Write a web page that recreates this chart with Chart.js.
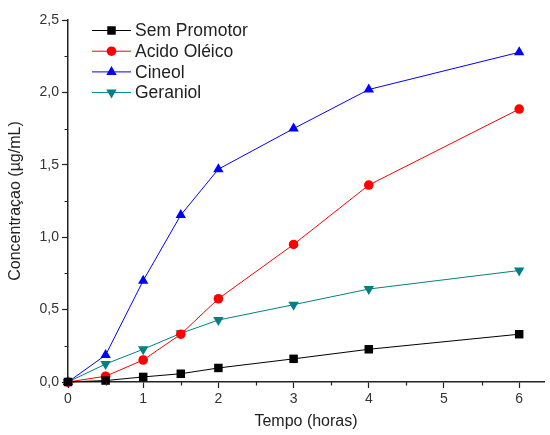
<!DOCTYPE html>
<html>
<head>
<meta charset="utf-8">
<script src="https://cdn.jsdelivr.net/npm/chart.js@4/dist/chart.umd.min.js"></script>
<style>
  html, body { margin: 0; padding: 0; background: #fff; }
  #wrap { width: 550px; height: 435px; }
</style>
</head>
<body>
<div id="wrap"><canvas id="conc"></canvas></div>
<script>
// tempo (horas)
const tempo = [0, 0.5, 1, 1.5, 2, 3, 4, 6]
const semPromotor = [0, 0.01, 0.035, 0.057, 0.097, 0.16, 0.226, 0.33]
const acidoOleico = [0, 0.04, 0.152, 0.33, 0.575, 0.95, 1.36, 1.885]
const cineol = [0, 0.186, 0.70, 1.153, 1.47, 1.75, 2.02, 2.277]
const geraniol = [0, 0.124, 0.226, 0.336, 0.428, 0.534, 0.642, 0.77]
const seriesNames = ['Sem Promotor', 'Acido Oléico', 'Cineol', 'Geraniol']
const xTicks = [0, 1, 2, 3, 4, 5, 6]
const yTicks = [0, 0.5, 1, 1.5, 2, 2.5]

const FONT = "'Liberation Sans', Arial, sans-serif"

function pts(ys) {
    return tempo.map((t, i) => ({x: t, y: ys[i]}))
}

function ds(label, ys, color, style, radius, rot) {
    return {
        label: label,
        data: pts(ys),
        borderColor: color,
        backgroundColor: color,
        borderWidth: 1,
        pointStyle: style,
        pointRadius: radius,
        pointHoverRadius: radius,
        pointRotation: rot || 0,
        pointBorderWidth: 0,
        clip: false,
        tension: 0
    }
}

// minor ticks + legend drawn with line and marker like the original
const extras = {
    id: 'extras',
    afterDraw(chart) {
        const ctx = chart.ctx
        const xs = chart.scales.x, ys = chart.scales.y
        ctx.save()
        ctx.strokeStyle = '#222'
        ctx.lineWidth = 1.2
        ctx.beginPath()
        for (let v = 0.5; v < 6.3; v += 1) {
            const px = Math.round(xs.getPixelForValue(v)) + 0.5
            ctx.moveTo(px, xs.top)
            ctx.lineTo(px, xs.top + 3.5)
        }
        for (let v = 0.25; v < 2.5; v += 0.5) {
            const py = Math.round(ys.getPixelForValue(v)) + 0.5
            ctx.moveTo(ys.right, py)
            ctx.lineTo(ys.right - 3.5, py)
        }
        ctx.stroke()

        chart.data.datasets.forEach((d, i) => {
            const y = 30.5 + i * 20.7
            ctx.strokeStyle = d.borderColor
            ctx.lineWidth = 1
            ctx.beginPath()
            ctx.moveTo(92, y)
            ctx.lineTo(131, y)
            ctx.stroke()
            ctx.fillStyle = d.backgroundColor
            Chart.helpers.drawPoint(ctx, {
                pointStyle: d.pointStyle,
                rotation: d.pointRotation,
                radius: d.pointRadius,
                borderWidth: 0
            }, 111.5, y)
            ctx.fillStyle = '#222'
            ctx.font = '17.5px ' + FONT
            ctx.textBaseline = 'middle'
            ctx.fillText(d.label, 135, y + 1)
        })
        ctx.restore()
    }
}

const chartctx = document.getElementById('conc').getContext('2d')
new Chart(chartctx, {
    type: 'line',
    data: {
        datasets: [
            ds(seriesNames[0], semPromotor, '#000000', 'rect', 6),
            ds(seriesNames[1], acidoOleico, '#ff0000', 'circle', 4.8),
            ds(seriesNames[2], cineol, '#0000ff', 'triangle', 6),
            ds(seriesNames[3], geraniol, '#008080', 'triangle', 6, 180)
        ]
    },
    options: {
        responsive: true,
        maintainAspectRatio: false,
        animation: false,
        layout: {padding: {top: 20, right: 0, left: 0, bottom: 0}},
        plugins: {
            legend: {display: false},
            tooltip: {enabled: false}
        },
        scales: {
            x: {
                type: 'linear',
                min: 0,
                max: 6.33,
                afterBuildTicks: s => { s.ticks = xTicks.map(v => ({value: v})) },
                afterFit: s => { s.height = 53; s.paddingRight = 0; s.paddingLeft = 0 },
                border: {color: '#222', width: 1.5},
                grid: {drawOnChartArea: false, tickLength: 6, tickColor: '#222', tickWidth: 1.2},
                ticks: {
                    color: '#333',
                    font: {family: FONT, size: 14},
                    padding: 3,
                    maxRotation: 0
                },
                title: {
                    display: true,
                    text: 'Tempo (horas)',
                    color: '#222',
                    font: {family: FONT, size: 16},
                    padding: {top: 12}
                }
            },
            y: {
                type: 'linear',
                min: 0,
                max: 2.5,
                afterBuildTicks: s => { s.ticks = yTicks.map(v => ({value: v})) },
                afterFit: s => { s.width = 68; s.paddingTop = 0; s.paddingBottom = 0 },
                border: {color: '#222', width: 1.5},
                grid: {drawOnChartArea: false, tickLength: 6, tickColor: '#222', tickWidth: 1.2},
                ticks: {
                    color: '#333',
                    font: {family: FONT, size: 14},
                    padding: 3,
                    callback: v => v.toFixed(1).replace('.', ',')
                },
                title: {
                    display: true,
                    text: 'Concentraçao (µg/mL)',
                    color: '#222',
                    font: {family: FONT, size: 16},
                    padding: {top: 6, bottom: 4}
                }
            }
        }
    },
    plugins: [extras]
})
</script>
</body>
</html>
